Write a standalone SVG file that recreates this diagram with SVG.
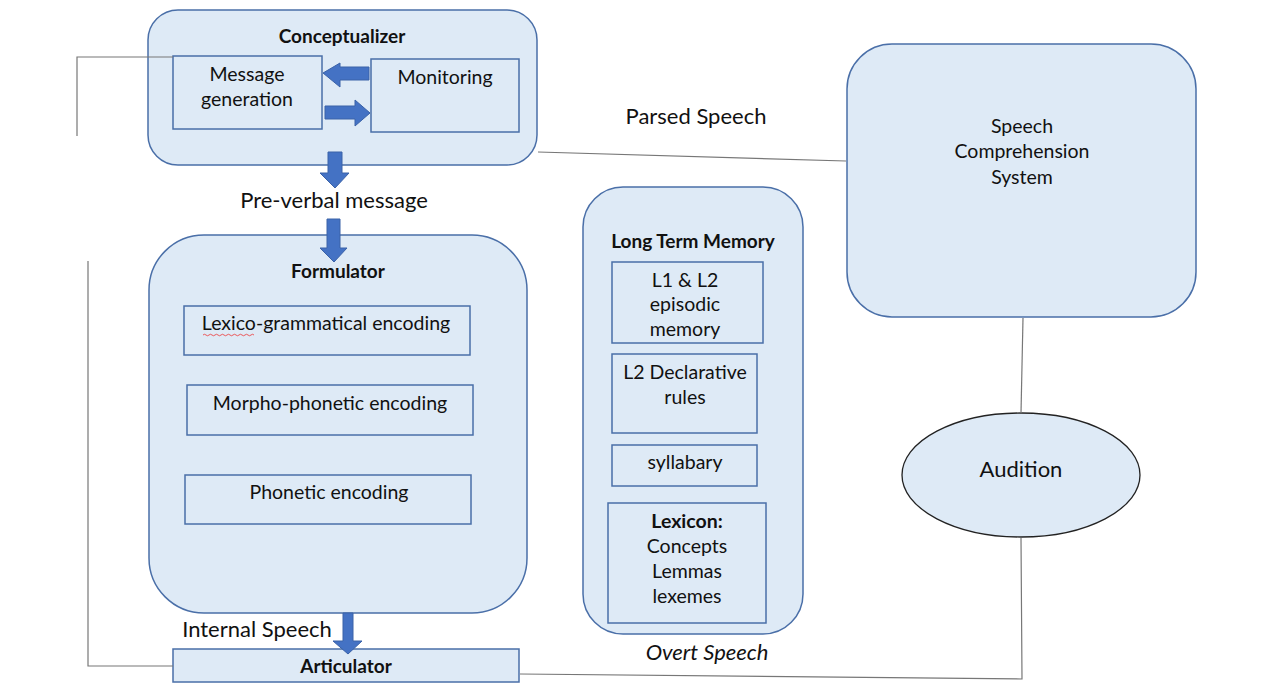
<svg xmlns="http://www.w3.org/2000/svg" width="1262" height="687" viewBox="0 0 1262 687">
<defs>
<style>
text{font-family:Lato,"Open Sans","Liberation Sans",sans-serif;fill:#111;text-anchor:middle}
.big{fill:#DEEAF6;stroke:#4A6FA8;stroke-width:1.5}
.box{fill:#DEEAF6;stroke:#4A6FA8;stroke-width:1.5}
.arr{fill:#4472C4;stroke:#3A62A8;stroke-width:1}
.ln{fill:none;stroke:#777;stroke-width:1.2}
.t{font-size:19.5px}
.b{font-size:19px;font-weight:bold}
.l{font-size:22px}
</style>
</defs>
<rect width="1262" height="687" fill="#fff"/>
<g id="conceptualizer">
<rect class="big" x="148" y="10" width="389" height="155" rx="30"/>
<text class="b" x="342" y="43">Conceptualizer</text>
</g>
<g id="message-generation">
<rect class="box" x="173" y="56" width="149" height="73"/>
<text class="t" x="247" y="81">Message</text>
<text class="t" x="247" y="106">generation</text>
</g>
<g id="monitoring">
<rect class="box" x="371" y="59" width="148" height="73"/>
<text class="t" x="445" y="84">Monitoring</text>
</g>
<g id="pre-verbal">
<text class="l" x="334" y="208">Pre-verbal message</text>
</g>
<g id="formulator">
<rect class="big" x="149" y="235" width="378" height="378" rx="55"/>
<text class="b" x="338" y="278">Formulator</text>
</g>
<g id="lexico">
<rect class="box" x="184" y="306" width="286" height="49"/>
<text class="t" x="326" y="330">Lexico-grammatical encoding</text>
<path d="M203,335 q1.5,-1.5 3,0 t3,0 t3,0 t3,0 t3,0 t3,0 t3,0 t3,0 t3,0 t3,0 t3,0 t3,0 t3,0 t3,0 t3,0 t3,0 t3,0" fill="none" stroke="#e33" stroke-width="0.8"/>
</g>
<g id="morpho">
<rect class="box" x="187" y="385" width="286" height="50"/>
<text class="t" x="330" y="410">Morpho-phonetic encoding</text>
</g>
<g id="phonetic">
<rect class="box" x="185" y="475" width="286" height="49"/>
<text class="t" x="329" y="499">Phonetic encoding</text>
</g>
<g id="internal-speech">
<text class="l" x="257" y="637">Internal Speech</text>
</g>
<g id="articulator">
<rect class="box" x="173" y="649" width="346" height="33"/>
<text class="b" x="346" y="673">Articulator</text>
</g>
<g id="parsed-speech">
<text class="l" x="696" y="124">Parsed Speech</text>
</g>
<g id="long-term-memory">
<rect class="big" x="583" y="187" width="220" height="447" rx="40"/>
<text class="b" x="693" y="248">Long Term Memory</text>
</g>
<g id="episodic">
<rect class="box" x="612" y="262" width="151" height="81"/>
<text class="t" x="685" y="287">L1 &amp; L2</text>
<text class="t" x="685" y="311">episodic</text>
<text class="t" x="685" y="336">memory</text>
</g>
<g id="declarative">
<rect class="box" x="612" y="354" width="145" height="79"/>
<text class="t" x="685" y="379">L2 Declarative</text>
<text class="t" x="685" y="404">rules</text>
</g>
<g id="syllabary">
<rect class="box" x="612" y="445" width="145" height="41"/>
<text class="t" x="685" y="469">syllabary</text>
</g>
<g id="lexicon">
<rect class="box" x="608" y="503" width="158" height="120"/>
<text class="t" x="687" y="528" font-weight="bold">Lexicon:</text>
<text class="t" x="687" y="553">Concepts</text>
<text class="t" x="687" y="578">Lemmas</text>
<text class="t" x="687" y="603">lexemes</text>
</g>
<g id="overt-speech">
<text class="l" x="707" y="660" font-style="italic">Overt Speech</text>
</g>
<g id="speech-comprehension">
<rect class="big" x="847" y="44" width="349" height="273" rx="45"/>
<text class="t" x="1022" y="133">Speech</text>
<text class="t" x="1022" y="158">Comprehension</text>
<text class="t" x="1022" y="184">System</text>
</g>
<g id="audition">
<ellipse cx="1021" cy="475" rx="119" ry="62" fill="#DEEAF6" stroke="#222" stroke-width="1.3"/>
<text class="l" x="1021" y="477">Audition</text>
</g>
<g id="connectors">
<polyline class="ln" points="77,136 77,57 173,57"/>
<polyline class="ln" points="88,261 88,666 173,666"/>
<line class="ln" x1="538" y1="152" x2="846" y2="161"/>
<line class="ln" x1="1023" y1="318" x2="1021" y2="413"/>
<polyline class="ln" points="1021,538 1022,679 520,674"/>
<polygon class="arr" points="369,67 340,67 340,63 323,73 340,87 340,80 369,80"/>
<polygon class="arr" points="325,106 355,106 355,100 370,113 355,126 355,119 325,119"/>
<polygon class="arr" points="328,152 342,152 342,173 349,173 335,188 320,173 328,173"/>
<polygon class="arr" points="327,219 340,219 340,248 347,248 334,262 320,248 327,248"/>
<polygon class="arr" points="343,613 353,613 353,641 362,641 348,654 333,641 343,641"/>
</g>
</svg>
